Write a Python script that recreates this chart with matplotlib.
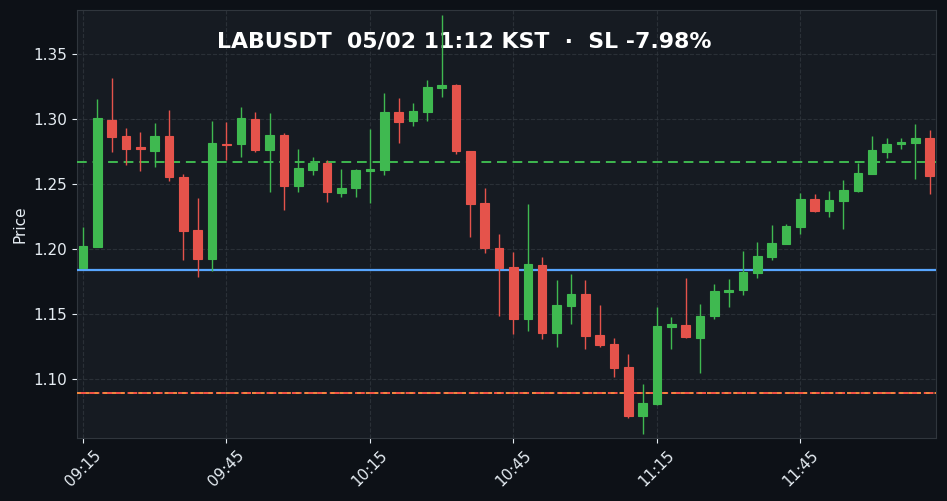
import matplotlib
matplotlib.use("Agg")
import matplotlib.pyplot as plt
from matplotlib.patches import Rectangle

# 3-minute candles, LABUSDT
opens = [1.1856, 1.2018, 1.2992, 1.2869, 1.2783, 1.2756, 1.2869, 1.2554, 1.2146, 1.1926,
         1.2810, 1.2805, 1.2997, 1.2764, 1.2874, 1.2487, 1.2610, 1.2664, 1.2433, 1.2472,
         1.2603, 1.2608, 1.3054, 1.2987, 1.3056, 1.3241, 1.3262, 1.2753, 1.2354, 1.2008,
         1.1861, 1.1464, 1.1877, 1.1356, 1.1564, 1.1654, 1.1338, 1.1269, 1.1092, 1.0718,
         1.0808, 1.1403, 1.1413, 1.1318, 1.1487, 1.1672, 1.1687, 1.1818, 1.1941, 1.2041,
         1.2172, 1.2385, 1.2295, 1.2372, 1.2449, 1.2580, 1.2749, 1.2805, 1.2818, 1.2854]
highs = [1.2167, 1.3151, 1.3318, 1.2928, 1.2897, 1.2967, 1.3069, 1.2574, 1.2390, 1.2987,
         1.2979, 1.3095, 1.3056, 1.3049, 1.2895, 1.2767, 1.2710, 1.2687, 1.2618, 1.2618,
         1.2926, 1.3203, 1.3159, 1.3121, 1.3297, 1.3800, 1.3269, 1.2756, 1.2472, 1.2113,
         1.1974, 1.2344, 1.1941, 1.1759, 1.1805, 1.1759, 1.1567, 1.1313, 1.1190, 1.0959,
         1.1551, 1.1474, 1.1774, 1.1580, 1.1728, 1.1767, 1.1982, 1.2051, 1.2182, 1.2190,
         1.2428, 1.2423, 1.2444, 1.2528, 1.2662, 1.2867, 1.2851, 1.2851, 1.2959, 1.2913]
lows = [1.1850, 1.2013, 1.2744, 1.2644, 1.2597, 1.2628, 1.2523, 1.1915, 1.1782, 1.1833,
        1.2685, 1.2705, 1.2746, 1.2436, 1.2300, 1.2436, 1.2567, 1.2364, 1.2397, 1.2397,
        1.2351, 1.2567, 1.2813, 1.2944, 1.2982, 1.3167, 1.2731, 1.2090, 1.1967, 1.1485,
        1.1346, 1.1372, 1.1305, 1.1249, 1.1421, 1.1228, 1.1249, 1.1013, 1.0697, 1.0577,
        1.0800, 1.1228, 1.1318, 1.1044, 1.1459, 1.1551, 1.1644, 1.1774, 1.1913, 1.2041,
        1.2113, 1.2287, 1.2244, 1.2151, 1.2441, 1.2580, 1.2697, 1.2772, 1.2536, 1.2421]
closes = [1.2023, 1.3005, 1.2864, 1.2772, 1.2771, 1.2869, 1.2556, 1.2141, 1.1921, 1.2813,
          1.2803, 1.3005, 1.2764, 1.2874, 1.2487, 1.2623, 1.2664, 1.2441, 1.2469, 1.2608,
          1.2613, 1.3054, 1.2979, 1.3062, 1.3246, 1.3259, 1.2756, 1.2349, 1.2010, 1.1856,
          1.1464, 1.1885, 1.1356, 1.1569, 1.1654, 1.1333, 1.1264, 1.1087, 1.0718, 1.0813,
          1.1408, 1.1423, 1.1326, 1.1485, 1.1677, 1.1685, 1.1826, 1.1946, 1.2046, 1.2177,
          1.2385, 1.2295, 1.2377, 1.2454, 1.2585, 1.2762, 1.2808, 1.2823, 1.2854, 1.2564]

tick_pos = [0, 10, 20, 30, 40, 50]
tick_labels = ["09:15", "09:45", "10:15", "10:45", "11:15", "11:45"]

entry = 1.1838
take_profit = 1.2667
stop_loss = 1.0890
title = "LABUSDT  05/02 11:12 KST  ·  SL -7.98%"

BG = "#0d1117"
PANEL = "#161b22"
GRID = "#30363d"
UP = "#3fb950"
DOWN = "#e5534b"
TXT = "#e6edf3"

fig = plt.figure(figsize=(9.47, 5.01), dpi=100, facecolor=BG)
ax = fig.add_axes([0.0813, 0.1257, 0.9071, 0.8543])
ax.set_facecolor(PANEL)

w = 0.6
for i in range(len(opens)):
    o, h, l, c = opens[i], highs[i], lows[i], closes[i]
    col = UP if c >= o else DOWN
    ax.vlines(i, l, h, color=col, linewidth=1.0, zorder=4)
    bottom = min(o, c)
    height = max(abs(c - o), 0.0008)
    ax.add_patch(Rectangle((i - w / 2, bottom), w, height, facecolor=col,
                           edgecolor=col, linewidth=0.8, zorder=5))

ax.axhline(entry, color="#58a6ff", linewidth=1.6, zorder=3)
ax.axhline(take_profit, color=UP, linewidth=1.4, linestyle=(0, (5, 3)), zorder=3)
ax.axhline(stop_loss, color="#f85149", linewidth=1.4, linestyle=(0, (5, 1.5)), zorder=3)
ax.axhline(stop_loss, color="#f0883e", linewidth=1.4, linestyle=(0, (2, 2.5)), zorder=3)

ax.text(0.451, 0.927, title, transform=ax.transAxes, ha="center", va="center",
        fontsize=15.8, fontweight="bold", color="white", zorder=2)

ax.set_xlim(-0.42, 59.45)
ax.set_ylim(1.0546, 1.3838)
ax.set_yticks([1.10, 1.15, 1.20, 1.25, 1.30, 1.35])
ax.set_yticklabels(["1.10", "1.15", "1.20", "1.25", "1.30", "1.35"])
ax.set_xticks(tick_pos)
ax.set_xticklabels(tick_labels, rotation=45, ha="center")

ax.grid(True, color=GRID, linestyle="--", linewidth=0.8, alpha=0.8, zorder=0)
ax.set_axisbelow(True)
for s in ax.spines.values():
    s.set_color(GRID)
ax.tick_params(colors=TXT, labelsize=11)
ax.set_ylabel("Price", color=TXT, fontsize=11)

fig.savefig("out.png", facecolor=BG)
